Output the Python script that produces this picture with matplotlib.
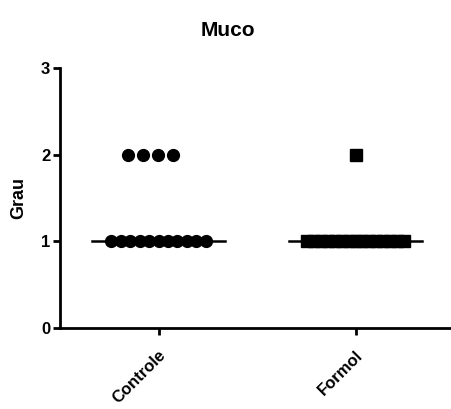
import numpy as np
import matplotlib.pyplot as plt

plt.rcParams['font.family'] = ['Liberation Sans', 'DejaVu Sans']

# scores per animal
groups = ["Controle", "Formol"]
controle = [2, 2, 2, 2, 1, 1, 1, 1, 1, 1, 1, 1, 1, 1, 1]
formol = [2, 1, 1, 1, 1, 1, 1, 1, 1, 1, 1, 1, 1, 1, 1, 1]
markers = ["o", "s"]
yticks = [0, 1, 2, 3]


def spread(vals, gap):
    # simple column scatter: centre the points that share a value
    vals = np.array(vals, dtype=float)
    xs = np.zeros(len(vals))
    for v in np.unique(vals):
        idx = np.where(vals == v)[0]
        n = len(idx)
        xs[idx] = (np.arange(n) - (n - 1) / 2) * gap
    return xs


fig = plt.figure(figsize=(4.51, 4.09), dpi=100)
ax = fig.add_axes([60 / 451, 81 / 409, 394 / 451, 260 / 409])

gaps = {"Controle": 0.048, "Formol": 0.035}
for i, (name, vals) in enumerate(zip(groups, [controle, formol])):
    vals = np.array(vals)
    dx = spread(vals, gaps[name])
    if name == "Controle":
        # upper row sits a little left of centre in the original
        dx[vals == 2] = dx[vals == 2] * 1.6 - 0.04
    ax.plot(i + dx, vals, linestyle="none", marker=markers[i],
            markersize=8.5, color="black", zorder=3)
    med = np.median(vals)
    ax.plot([i - 0.34, i + 0.34], [med, med], color="black", lw=1.8, zorder=2)

ax.set_xlim(-0.5, 1.5)
ax.set_ylim(0, 3)
ax.set_yticks(yticks)
ax.set_xticks(range(len(groups)))
ax.set_xticklabels(groups, rotation=45, ha="right", rotation_mode="anchor",
                   fontweight="bold", fontsize=12)
for lab in ax.get_yticklabels():
    lab.set_fontweight("bold")
    lab.set_fontsize(12)

for s in ["top", "right"]:
    ax.spines[s].set_visible(False)
for s in ["left", "bottom"]:
    ax.spines[s].set_linewidth(2)
ax.tick_params(width=2, length=5, direction="out", pad=2)
ax.tick_params(axis="x", pad=9)

ax.set_ylabel("Grau", fontsize=13, fontweight="bold", labelpad=10)
fig.text(0.505, 0.925, "Muco", ha="center", va="center",
         fontsize=15, fontweight="bold")

fig.savefig("out.png", dpi=100)
